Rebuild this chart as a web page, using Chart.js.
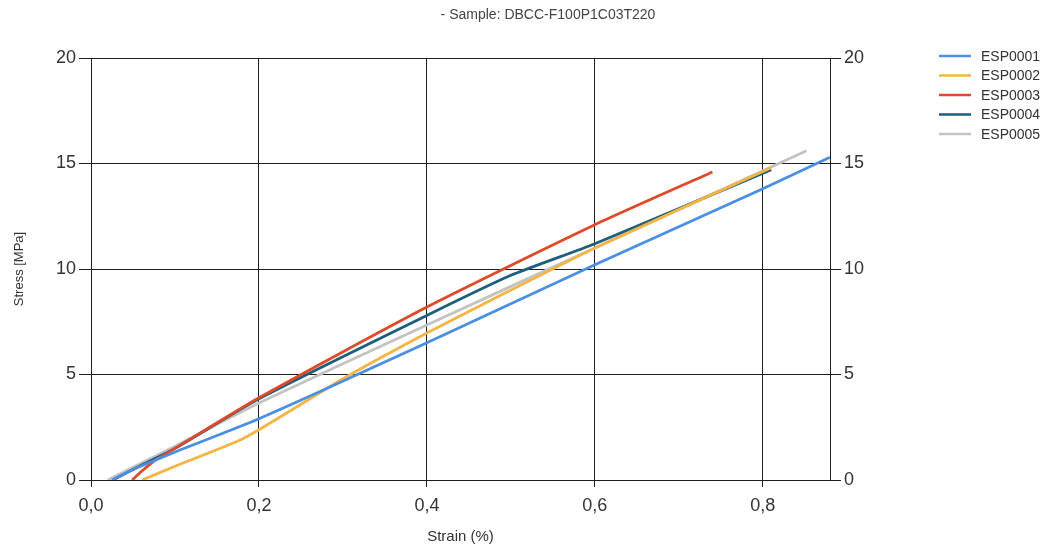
<!DOCTYPE html>
<html>
<head>
<meta charset="utf-8">
<title>Sample DBCC-F100P1C03T220</title>
<script src="https://cdn.jsdelivr.net/npm/chart.js@4/dist/chart.umd.min.js"></script>
<style>
    html, body { margin: 0; padding: 0; background: #fff; }
    #contenedor { width: 1055px; height: 548px; }
</style>
</head>
<body>
<div id="contenedor"><canvas id="grafica-ensayo"></canvas></div>
<script>
// Datos (deformacion en %, tension en MPa)
const titulo = '- Sample: DBCC-F100P1C03T220';
const nombres = ['ESP0001', 'ESP0002', 'ESP0003', 'ESP0004', 'ESP0005'];
const colores = ['#4a8fe4', '#f4b544', '#e0492a', '#1d5e7c', '#c3c3c3'];

const strain1 = [0.025, 0.05, 0.08, 0.106, 0.2, 0.4, 0.6, 0.8, 0.88];
const stress1 = [0, 0.5, 1.0, 1.42, 2.9, 6.5, 10.2, 13.8, 15.3];

const strain2 = [0.061, 0.1, 0.183, 0.3, 0.4, 0.5, 0.6, 0.81];
const stress2 = [0, 0.65, 2.0, 4.8, 6.97, 9.0, 11.0, 14.8];

const strain3 = [0.049, 0.06, 0.075, 0.1, 0.2, 0.4, 0.6, 0.74];
const stress3 = [0, 0.4, 0.9, 1.5, 3.9, 8.2, 12.1, 14.6];

const strain4 = [0.026, 0.06, 0.1, 0.2, 0.4, 0.5, 0.6, 0.81];
const stress4 = [0, 0.7, 1.5, 3.85, 7.8, 9.7, 11.2, 14.7];

const strain5 = [0.02, 0.06, 0.1, 0.2, 0.4, 0.6, 0.852];
const stress5 = [0, 0.8, 1.6, 3.65, 7.35, 11.0, 15.6];

const strains = [strain1, strain2, strain3, strain4, strain5];
const stresses = [stress1, stress2, stress3, stress4, stress5];

const xTicks = [0, 0.2, 0.4, 0.6, 0.8];
const yTicks = [0, 5, 10, 15, 20];

const fuente = '"Liberation Sans", Arial, sans-serif';
const colorTexto = '#333';
const colorRejilla = '#1e1e1e';

// Titulo y leyenda dibujados a mano (el titulo no va centrado en el canvas)
const textosExtra = {
    id: 'textosExtra',
    afterDraw(chart) {
        const ctx = chart.ctx;
        ctx.save();
        ctx.font = '14px ' + fuente;
        ctx.fillStyle = '#444';
        ctx.textAlign = 'center';
        ctx.textBaseline = 'middle';
        ctx.fillText(titulo, 548, 15);

        ctx.textAlign = 'left';
        chart.data.datasets.forEach((ds, i) => {
            const y = 56 + i * 19.5;
            ctx.strokeStyle = ds.borderColor;
            ctx.lineWidth = 2.5;
            ctx.beginPath();
            ctx.moveTo(939, y);
            ctx.lineTo(971, y);
            ctx.stroke();
            ctx.fillStyle = colorTexto;
            ctx.fillText(ds.label, 981, y + 1);
        });
        ctx.restore();
    }
};

const datasets = nombres.map((nombre, i) => ({
    label: nombre,
    data: strains[i].map((x, j) => ({ x: x, y: stresses[i][j] })),
    borderColor: colores[i],
    backgroundColor: colores[i],
    borderWidth: 2.8,
    pointRadius: 0,
    tension: 0.2,
    fill: false
}));

const coma = v => v.toFixed(1).replace('.', ',');

new Chart(document.getElementById('grafica-ensayo'), {
    type: 'line',
    data: { datasets: datasets },
    options: {
        responsive: true,
        maintainAspectRatio: false,
        animation: false,
        layout: { padding: { top: 58, left: 0, right: 0, bottom: 0 } },
        scales: {
            x: {
                type: 'linear',
                min: 0,
                max: 0.88,
                afterBuildTicks: s => { s.ticks = xTicks.map(v => ({ value: v })); },
                afterFit: s => { s.height = 68; },
                ticks: {
                    callback: v => coma(v),
                    font: { size: 18, family: fuente },
                    color: colorTexto,
                    padding: 8,
                    maxRotation: 0
                },
                grid: { color: colorRejilla, tickLength: 7, lineWidth: 1 },
                border: { color: colorRejilla },
                title: {
                    display: true,
                    text: 'Strain (%)',
                    font: { size: 15, family: fuente },
                    color: colorTexto,
                    padding: { top: 0, bottom: 2 }
                }
            },
            y: {
                position: 'left',
                min: 0,
                max: 20,
                afterBuildTicks: s => { s.ticks = yTicks.map(v => ({ value: v })); },
                afterFit: s => { s.width = 91; },
                ticks: {
                    font: { size: 18, family: fuente },
                    color: colorTexto,
                    padding: 3
                },
                grid: { color: colorRejilla, tickLength: 12, lineWidth: 1 },
                border: { color: colorRejilla },
                title: {
                    display: true,
                    text: 'Stress [MPa]',
                    font: { size: 13, family: fuente },
                    color: colorTexto,
                    padding: { top: 12, bottom: 0 }
                }
            },
            y2: {
                position: 'right',
                min: 0,
                max: 20,
                afterBuildTicks: s => { s.ticks = yTicks.map(v => ({ value: v })); },
                afterFit: s => { s.width = 225; },
                ticks: {
                    font: { size: 18, family: fuente },
                    color: colorTexto,
                    padding: 3
                },
                grid: { drawOnChartArea: false, color: colorRejilla, tickLength: 11 },
                border: { color: colorRejilla }
            }
        },
        plugins: {
            legend: { display: false },
            tooltip: { enabled: false },
            title: { display: false }
        }
    },
    plugins: [textosExtra]
});
</script>
</body>
</html>
